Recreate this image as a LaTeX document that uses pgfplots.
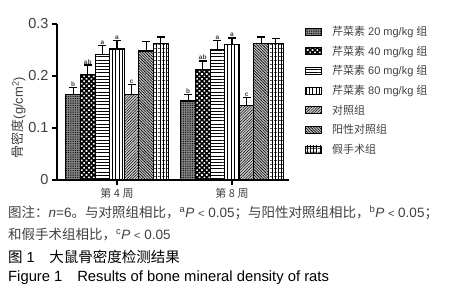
\documentclass[border=0pt]{standalone}
\usepackage{pgfplots}
\pgfplotsset{compat=1.18}
\usetikzlibrary{patterns.meta}
\usepackage{fontspec}
\setmainfont{Liberation Sans}
\newfontfamily\cjk{Noto Sans CJK SC}
\definecolor{txt}{gray}{0.25}
\newcommand\lentry[1]{\makebox[98pt][l]{#1}}
\begin{document}
\begin{tikzpicture}
\path[use as bounding box] (-57pt,-120pt) rectangle (394pt,180pt);
\begin{axis}[
  scale only axis, width=232pt, height=156pt,
  at={(0pt,0pt)}, anchor=south west,
  xmin=-0.5217, xmax=1.4957, ymin=0, ymax=0.3,
  axis x line*=bottom, axis y line*=left,
  axis line style={-, line width=1.2pt},
  tick align=outside, major tick length=5pt,
  every tick/.style={black, line width=1.1pt},
  xtick={0,1}, xticklabels={{\cjk 第 4 周},{\cjk 第 8 周}},
  xticklabel style={font=\fontsize{11}{11}\selectfont, text=txt},
  ytick={0,0.1,0.2,0.3},
  yticklabel style={font=\fontsize{14.5}{14.5}\selectfont, text=txt, /pgf/number format/fixed, /pgf/number format/precision=1},
  /pgf/number format/assume math mode=true,
  ylabel={{\cjk 骨密度}(g/cm\textsuperscript{2})},
  every axis y label/.style={at={(axis description cs:-0.165,0.40)}, rotate=90, anchor=center, font=\fontsize{13}{13}\selectfont, text=txt},
  legend style={at={(axis description cs:1.069,1.0)}, anchor=north west, draw=none, fill=none,
    font=\fontsize{11}{11}\selectfont, text=txt, row sep=4.9pt, inner sep=0pt,
    /tikz/every odd column/.append style={column sep=8pt}},
  legend cell align=left,
  legend image code/.code={\draw[#1, line width=0.9pt] (0pt,-3.5pt) rectangle (16pt,3.5pt);},
  error bars/y dir=plus, error bars/y explicit,
  error bars/error bar style={line width=1.2pt, black},
  error bars/error mark options={line width=1.2pt, black, mark size=4pt, rotate=90},
]
\pgfplotsset{bb/.style={ybar, bar width=0.127, bar shift=0, draw=black, line width=1.1pt}}
% 20 mg/kg
\addplot[bb, fill=black!45, postaction={pattern={Dots[distance=1.8pt, radius=0.55pt]}, pattern color=black}]
  coordinates {(-0.381,0.164) +- (0,0.014) (0.619,0.152) +- (0,0.013)};
\addlegendentry{\lentry{{\cjk 芹菜素} 20 mg/kg {\cjk 组}}}
% 40 mg/kg
\addplot[bb, fill=black, postaction={pattern={Dots[distance=3.4pt, radius=1.15pt, angle=45]}, pattern color=white}]
  coordinates {(-0.254,0.203) +- (0,0.018) (0.746,0.212) +- (0,0.017)};
\addlegendentry{\lentry{{\cjk 芹菜素} 40 mg/kg {\cjk 组}}}
% 60 mg/kg
\addplot[bb, fill=white, postaction={pattern={Lines[angle=0, distance=3.2pt, line width=0.9pt]}, pattern color=black}]
  coordinates {(-0.127,0.242) +- (0,0.016) (0.873,0.251) +- (0,0.017)};
\addlegendentry{\lentry{{\cjk 芹菜素} 60 mg/kg {\cjk 组}}}
% 80 mg/kg
\addplot[bb, fill=white, postaction={pattern={Lines[angle=90, distance=3.4pt, line width=0.9pt]}, pattern color=black}]
  coordinates {(0,0.252) +- (0,0.017) (1,0.261) +- (0,0.012)};
\addlegendentry{\lentry{{\cjk 芹菜素} 80 mg/kg {\cjk 组}}}
% control
\addplot[bb, fill=black!20, postaction={pattern={Lines[angle=45, distance=2pt, line width=0.5pt]}, pattern color=black}]
  coordinates {(0.127,0.164) +- (0,0.019) (1.127,0.143) +- (0,0.015)};
\addlegendentry{\lentry{\cjk 对照组}}
% positive control
\addplot[bb, fill=black!25, postaction={pattern={Lines[angle=-45, distance=2pt, line width=0.6pt]}, pattern color=black}]
  coordinates {(0.254,0.248) +- (0,0.019) (1.254,0.263) +- (0,0.012)};
\addlegendentry{\lentry{\cjk 阳性对照组}}
% sham
\addplot[bb, fill=white, postaction={pattern={Lines[angle=90, distance=3.2pt, line width=0.7pt]}, pattern color=black}, postaction={pattern={Lines[angle=0, distance=4pt, line width=0.7pt]}, pattern color=black}]
  coordinates {(0.381,0.263) +- (0,0.012) (1.381,0.263) +- (0,0.009)};
\addlegendentry{\lentry{\cjk 假手术组}}
% significance letters
\addplot[draw=none, mark=none, forget plot, nodes near coords, point meta=explicit symbolic,
  nodes near coords style={anchor=south, inner sep=0.8pt, font=\fontsize{6.5}{6.5}\selectfont\bfseries, text=txt}]
  table[meta=l] {
  x y l
  -0.381 0.178 b
  -0.254 0.221 ab
  -0.127 0.258 a
  0 0.269 a
  0.127 0.183 c
  0.619 0.165 b
  0.746 0.229 ab
  0.873 0.268 a
  1.0 0.273 a
  1.127 0.158 c
  };
\end{axis}
\begin{scope}[every node/.style={anchor=west, inner sep=0pt, text=txt}]
\node[font=\fontsize{13.5}{13.5}\selectfont] at (-49pt,-33pt) {{\cjk 图注：}\textit{n}=6{\cjk 。与对照组相比，}\textsuperscript{a}\textit{P} {\fontsize{11}{11}\selectfont<} 0.05{\cjk ；与阳性对照组相比，}\textsuperscript{b}\textit{P} {\fontsize{11}{11}\selectfont<} 0.05{\cjk ；}};
\node[font=\fontsize{13.5}{13.5}\selectfont] at (-49pt,-55pt) {{\cjk 和假手术组相比，}\textsuperscript{c}\textit{P} {\fontsize{11}{11}\selectfont<} 0.05};
\node[font=\fontsize{14.5}{14.5}\selectfont, text=black] at (-49pt,-77pt) {{\cjk 图} 1\hspace{1em}{\cjk 大鼠骨密度检测结果}};
\node[font=\fontsize{14.8}{14.8}\selectfont, text=black] at (-49pt,-98pt) {Figure 1\hspace{1em}Results of bone mineral density of rats};
\end{scope}
\end{tikzpicture}
\end{document}
